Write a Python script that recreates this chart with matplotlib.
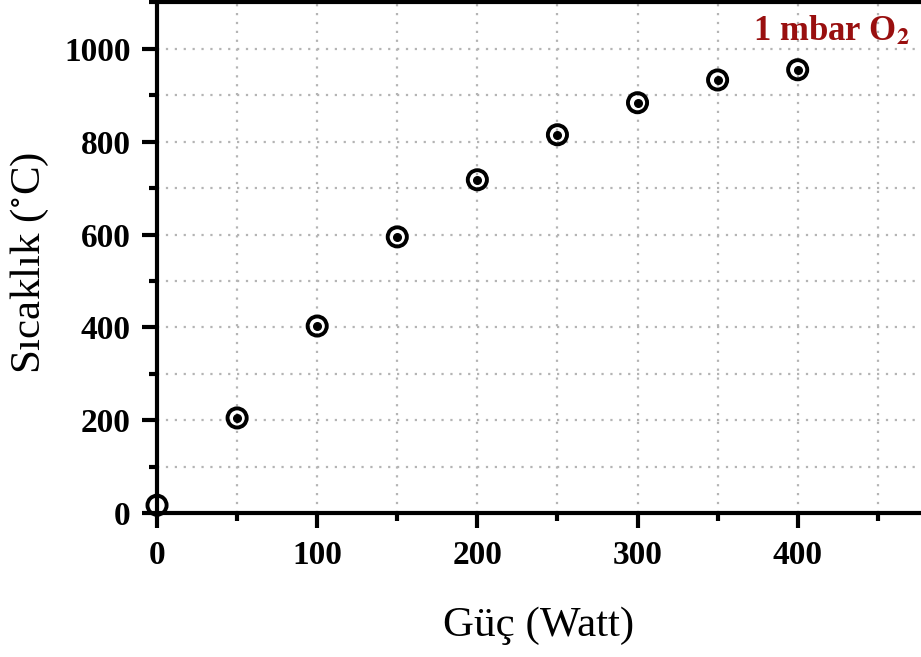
import numpy as np
import matplotlib.pyplot as plt
from matplotlib.ticker import MultipleLocator

power = [0, 50, 100, 150, 200, 250, 300, 350, 400]
temperature = [17, 205, 403, 595, 718, 815, 884, 933, 955]

plt.rcParams['font.family'] = 'Liberation Serif'
plt.rcParams['mathtext.fontset'] = 'stix'

fig = plt.figure(figsize=(9.21, 6.57), dpi=100)
ax = fig.add_axes([0.1705, 0.219, 0.8295, 0.778])

# target style markers: ring + dot
ax.scatter(power, temperature, s=190, facecolors='none', edgecolors='black',
           linewidths=2.8, zorder=5, clip_on=False)
ax.scatter(power[1:], temperature[1:], s=30, color='black', zorder=6)

ax.set_xlim(0, 477)
ax.set_ylim(0, 1101)

ax.xaxis.set_major_locator(MultipleLocator(100))
ax.xaxis.set_minor_locator(MultipleLocator(50))
ax.yaxis.set_major_locator(MultipleLocator(200))
ax.yaxis.set_minor_locator(MultipleLocator(100))

ax.grid(True, which='both', linestyle=(0, (1, 3)), color='#b4b4b4', linewidth=1.6)
ax.set_axisbelow(True)

for side in ['left', 'bottom', 'top']:
    ax.spines[side].set_linewidth(3)
ax.spines['right'].set_visible(False)

ax.tick_params(which='major', direction='out', length=11, width=3, pad=8,
               labelsize=24)
ax.tick_params(which='minor', direction='out', length=6, width=3)
for lab in ax.get_xticklabels() + ax.get_yticklabels():
    lab.set_fontweight('bold')

ax.set_xlabel('Güç (Watt)', fontsize=31, labelpad=26)
ax.set_ylabel('Sıcaklık ($^{\\circ}$C)', fontsize=31, va='center')
ax.yaxis.set_label_coords(-0.166, 0.49)

ax.text(0.985, 0.942, r'1 mbar O$_\mathbf{2}$', transform=ax.transAxes,
        ha='right', va='center', fontsize=25, fontweight='bold', color='#990f0f')

fig.savefig('out.png', dpi=100)
